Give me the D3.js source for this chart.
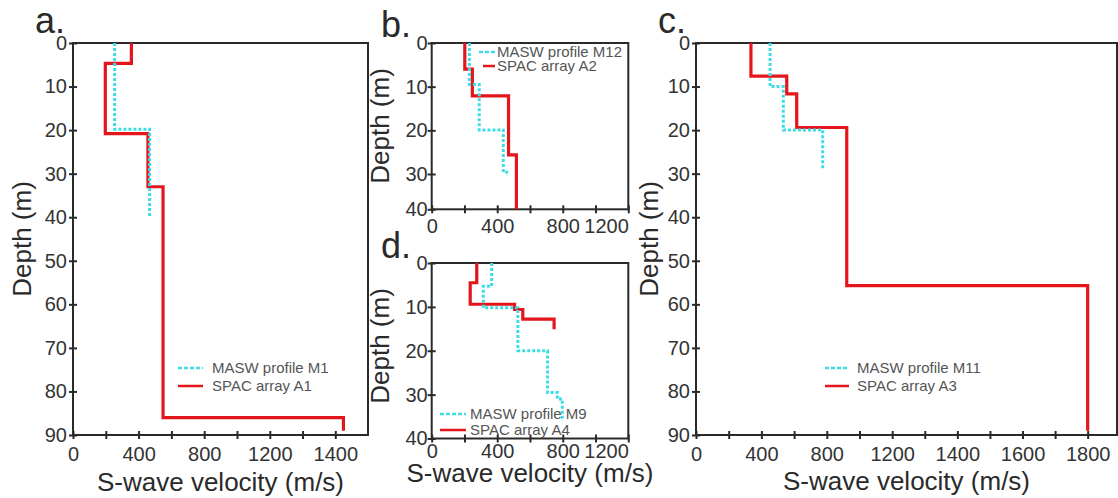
<!DOCTYPE html>
<html>
<head>
<meta charset="utf-8">
<script src="https://cdn.jsdelivr.net/npm/d3@7"></script>
<style>
  body { margin: 0; background: #fff; }
  text { font-family: "Liberation Sans", Arial, sans-serif; }
</style>
</head>
<body>
<svg id="chart" width="1118" height="498"></svg>
<script>
// a. MASW profile M1 / SPAC array A1
const depthM1 = [0, 19.8, 39.8];
const velM1 = [254, 467];
const depthA1 = [0, 4.7, 20.8, 33, 86, 89];
const velA1 = [356, 197, 457, 549, 1425];

// b. MASW profile M12 / SPAC array A2
const depthM12 = [0, 9.5, 19.9, 29.6, 30.6];
const velM12 = [230, 290, 437, 458];
const depthA2 = [0, 6, 12.1, 25.6, 40];
const velA2 = [202, 248, 469, 517];

// c. MASW profile M11 / SPAC array A3
const depthM11 = [0, 10, 20, 29.1];
const velM11 = [453, 534, 775];
const depthA3 = [0, 7.6, 11.7, 19.4, 55.7, 89];
const velA3 = [336, 555, 616, 922, 1800];

// d. MASW profile M9 / SPAC array A4
const depthM9 = [0, 5.3, 10.2, 20, 29.5, 31, 36];
const velM9 = [366, 315, 526, 707, 767, 797];
const depthA4 = [0, 4.5, 9.4, 10.6, 12.8, 15.1];
const velA4 = [275, 235, 506, 556, 747];

// tick values and labels
const xTicksWide = [0, 200, 400, 600, 800, 1000, 1200, 1300, 1400];
const xLabelsWide = [0, 400, 800, 1200, 1400];
const xTicksC = [0, 200, 400, 600, 800, 1000, 1200, 1300, 1400, 1500, 1600, 1700, 1800];
const xLabelsC = [0, 400, 800, 1200, 1400, 1600, 1800];
const xTicksSmall = [0, 200, 400, 600, 800, 1000, 1200];
const xLabelsSmall = [0, 400, 800, 1200];
const yTicksDeep = [0, 10, 20, 30, 40, 50, 60, 70, 80, 90];
const yTicksShallow = [0, 10, 20, 30, 40];

const RED = "#e4161c";
const CYAN = "#3edde6";
const INK = "#2a2a2a";

const svg = d3.select("#chart");

// turn depth boundaries + layer velocities into a step profile
function profile(depths, vels) {
  const pts = [];
  vels.forEach((v, i) => {
    pts.push([v, depths[i]]);
    pts.push([v, depths[i + 1]]);
  });
  return pts;
}

function drawPanel(p) {
  const x = d3.scaleLinear().domain(p.xDomain).range(p.xRange);
  const y = d3.scaleLinear().domain(p.yDomain).range(p.yRange);
  const g = svg.append("g");
  const left = p.xRange[0], right = p.xRange[p.xRange.length - 1];
  const top = p.yRange[0], bottom = p.yRange[p.yRange.length - 1];

  // axes with ticks crossing the frame
  const xAxis = g.append("g")
    .attr("transform", `translate(0,${bottom})`)
    .call(d3.axisBottom(x).tickValues(p.xTicks).tickSize(4).tickPadding(p.xPad)
      .tickFormat(d => p.xLabels.includes(d) ? d : ""));
  xAxis.selectAll(".tick line").attr("y1", -4).attr("y2", 4);

  const yAxis = g.append("g")
    .attr("transform", `translate(${left},0)`)
    .call(d3.axisLeft(y).tickValues(p.yTicks).tickSize(4).tickPadding(p.yPad));
  yAxis.selectAll(".tick line").attr("x1", 4).attr("x2", -4);

  [xAxis, yAxis].forEach(a => {
    a.select(".domain").remove();
    a.selectAll(".tick line").attr("stroke", INK).attr("stroke-width", 2);
    a.selectAll("text").attr("font-size", 20).attr("fill", "#333")
      .style("font-family", "'Liberation Sans', Arial, sans-serif");
  });
  if (p.lastLabelEnd) {
    xAxis.selectAll(".tick text").filter(d => d === 1200).attr("text-anchor", "end");
  }

  g.append("rect")
    .attr("x", left).attr("y", top)
    .attr("width", right - left).attr("height", bottom - top)
    .attr("fill", "none").attr("stroke", INK).attr("stroke-width", 2);

  const line = d3.line().x(d => x(d[0])).y(d => y(d[1]));
  g.append("path")
    .datum(profile(p.spac.depth, p.spac.vel))
    .attr("d", line)
    .attr("fill", "none").attr("stroke", RED).attr("stroke-width", 3.2);
  g.append("path")
    .datum(profile(p.masw.depth, p.masw.vel))
    .attr("d", line)
    .attr("fill", "none").attr("stroke", CYAN).attr("stroke-width", 3)
    .attr("stroke-dasharray", "3,2");

  // legend
  const lg = g.append("g").attr("font-size", 15).attr("fill", "#555");
  lg.append("line")
    .attr("x1", p.legend.x0).attr("x2", p.legend.x1)
    .attr("y1", p.legend.y).attr("y2", p.legend.y)
    .attr("stroke", CYAN).attr("stroke-width", 2.5).attr("stroke-dasharray", "4,2");
  lg.append("line")
    .attr("x1", p.legend.x0 + (p.legend.redInset || 0)).attr("x2", p.legend.x1)
    .attr("y1", p.legend.y + p.legend.gap).attr("y2", p.legend.y + p.legend.gap)
    .attr("stroke", RED).attr("stroke-width", 2.5);
  lg.append("text").attr("x", p.legend.tx).attr("y", p.legend.y + 5).text(p.masw.name);
  lg.append("text").attr("x", p.legend.tx).attr("y", p.legend.y + p.legend.gap + 5).text(p.spac.name);

  // titles
  if (p.xTitleY) {
    g.append("text")
      .attr("x", (left + right) / 2).attr("y", p.xTitleY)
      .attr("text-anchor", "middle").attr("font-size", 26).attr("fill", INK)
      .text("S-wave velocity (m/s)");
  }
  g.append("text")
    .attr("transform", `translate(${p.yTitle[0]},${p.yTitle[1]}) rotate(-90)`)
    .attr("text-anchor", "middle").attr("font-size", 26).attr("fill", INK)
    .text("Depth (m)");
  g.append("text")
    .attr("x", p.letter[0]).attr("y", p.letter[1])
    .attr("font-size", 36).attr("fill", INK)
    .text(p.id + ".");
}

const panels = [
  {
    id: "a",
    xDomain: [0, 1200, 1500], xRange: [73, 269.8, 368],
    yDomain: [0, 90], yRange: [43, 435],
    xTicks: xTicksWide, xLabels: xLabelsWide, yTicks: yTicksDeep, xPad: 8, yPad: 2,
    masw: { name: "MASW profile M1", depth: depthM1, vel: velM1 },
    spac: { name: "SPAC array A1", depth: depthA1, vel: velA1 },
    legend: { x0: 178, x1: 203, y: 368, gap: 18, tx: 212 },
    xTitleY: 491, yTitle: [31, 239], letter: [35, 33]
  },
  {
    id: "b",
    xDomain: [0, 1200], xRange: [431.7, 628.3],
    yDomain: [0, 30, 40], yRange: [43, 174, 209.3],
    xTicks: xTicksSmall, xLabels: xLabelsSmall, yTicks: yTicksShallow, xPad: 6, yPad: 0,
    lastLabelEnd: true,
    masw: { name: "MASW profile M12", depth: depthM12, vel: velM12 },
    spac: { name: "SPAC array A2", depth: depthA2, vel: velA2 },
    legend: { x0: 479, x1: 495, y: 52, gap: 14, tx: 497, redInset: 4 },
    xTitleY: null, yTitle: [389, 126], letter: [381, 37]
  },
  {
    id: "c",
    xDomain: [0, 1200, 1890], xRange: [696, 892.2, 1117],
    yDomain: [0, 90], yRange: [43, 435],
    xTicks: xTicksC, xLabels: xLabelsC, yTicks: yTicksDeep, xPad: 8, yPad: 2,
    masw: { name: "MASW profile M11", depth: depthM11, vel: velM11 },
    spac: { name: "SPAC array A3", depth: depthA3, vel: velA3 },
    legend: { x0: 825, x1: 849, y: 368, gap: 18, tx: 857 },
    xTitleY: 490, yTitle: [658, 239], letter: [658, 33]
  },
  {
    id: "d",
    xDomain: [0, 1200], xRange: [431.7, 628.3],
    yDomain: [0, 40], yRange: [263, 438.5],
    xTicks: xTicksSmall, xLabels: xLabelsSmall, yTicks: yTicksShallow, xPad: 1, yPad: 0,
    lastLabelEnd: true,
    masw: { name: "MASW profile M9", depth: depthM9, vel: velM9 },
    spac: { name: "SPAC array A4", depth: depthA4, vel: velA4 },
    legend: { x0: 440, x1: 466, y: 414, gap: 16, tx: 470 },
    xTitleY: 482, yTitle: [389, 346], letter: [381, 258]
  }
];

panels.forEach(drawPanel);
</script>
</body>
</html>
